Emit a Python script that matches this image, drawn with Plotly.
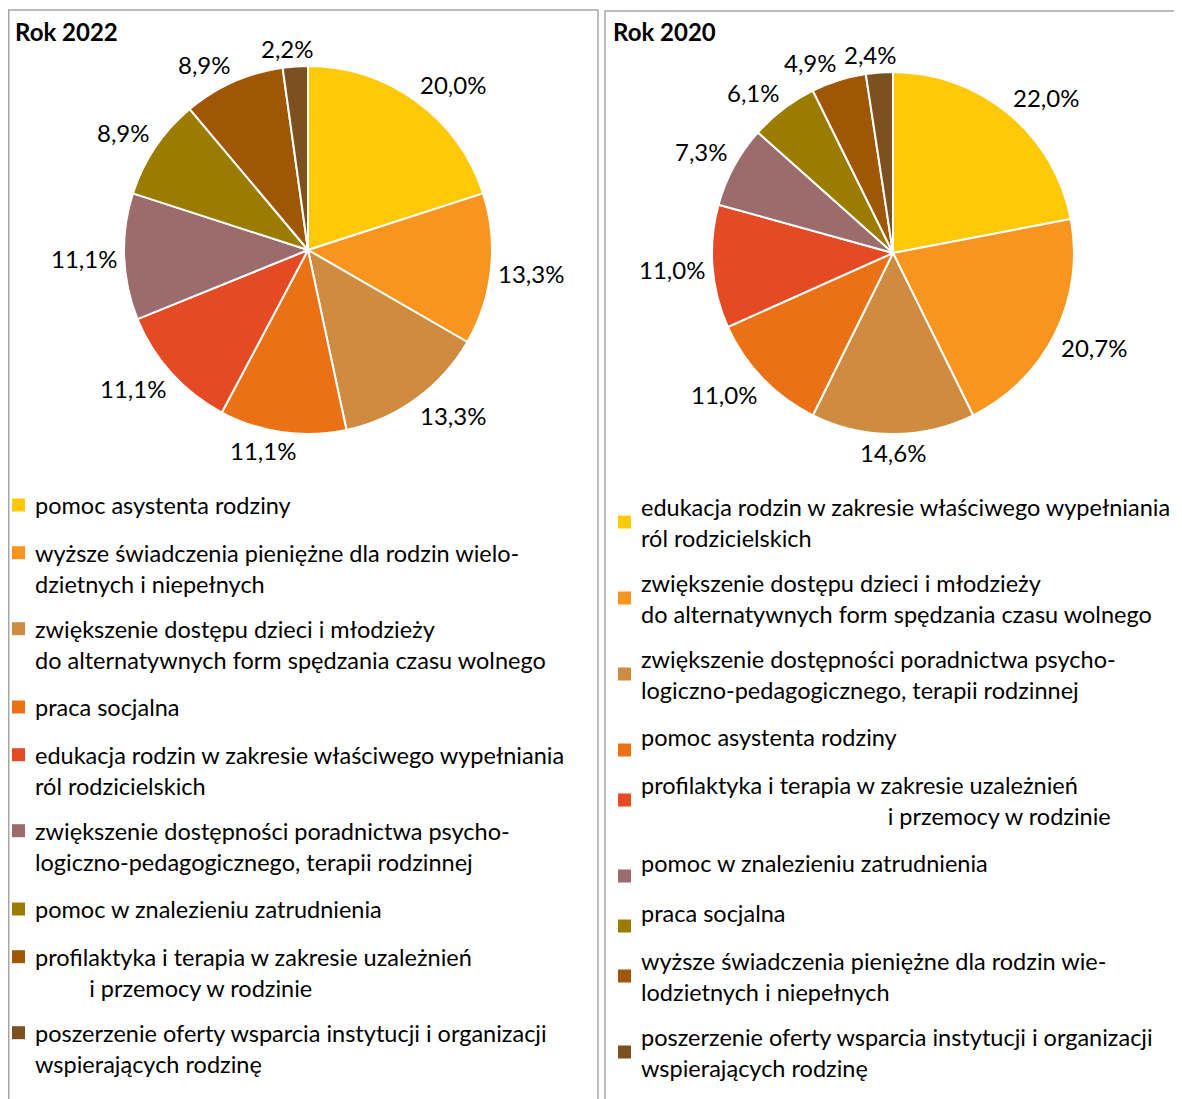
import math
import plotly.graph_objects as go

W, H = 1182, 1099
OFF = 8  # margines body strony
FONT = "Lato"
TXT = "#000000"
FRAME = "#A6A6A6"
FS = 24
FS_LEG = 23.5

colors = ["#FFC90A", "#F7951F", "#CF8C40", "#EB7117", "#E44A23",
          "#9C6B6B", "#9C7C00", "#A05705", "#7D5020"]

labels_2022 = [
    "pomoc asystenta rodziny",
    "wyższe świadczenia pieniężne dla rodzin wielo-<br>dzietnych i niepełnych",
    "zwiększenie dostępu dzieci i młodzieży<br>do alternatywnych form spędzania czasu wolnego",
    "praca socjalna",
    "edukacja rodzin w zakresie właściwego wypełniania<br>ról rodzicielskich",
    "zwiększenie dostępności poradnictwa psycho-<br>logiczno-pedagogicznego, terapii rodzinnej",
    "pomoc w znalezieniu zatrudnienia",
    "profilaktyka i terapia w zakresie uzależnień<br>" + "\u00a0" * 9 + "i przemocy w rodzinie",
    "poszerzenie oferty wsparcia instytucji i organizacji<br>wspierających rodzinę",
]
values_2022 = [20.0, 13.3, 13.3, 11.1, 11.1, 11.1, 8.9, 8.9, 2.2]

labels_2020 = [
    "edukacja rodzin w zakresie właściwego wypełniania<br>ról rodzicielskich",
    "zwiększenie dostępu dzieci i młodzieży<br>do alternatywnych form spędzania czasu wolnego",
    "zwiększenie dostępności poradnictwa psycho-<br>logiczno-pedagogicznego, terapii rodzinnej",
    "pomoc asystenta rodziny",
    "profilaktyka i terapia w zakresie uzależnień<br>" + "\u00a0" * 41 + "i przemocy w rodzinie",
    "pomoc w znalezieniu zatrudnienia",
    "praca socjalna",
    "wyższe świadczenia pieniężne dla rodzin wie-<br>lodzietnych i niepełnych",
    "poszerzenie oferty wsparcia instytucji i organizacji<br>wspierających rodzinę",
]
values_2020 = [22.0, 20.7, 14.6, 11.0, 11.0, 7.3, 6.1, 4.9, 2.4]


def px(x):
    return (x - OFF) / W


def py(y):
    return 1 - (y - OFF) / H


fig = go.Figure()


def pie(labels, values, cx, cy, r):
    fig.add_trace(go.Pie(
        labels=[l.replace("<br>", " ").replace("\u00a0", "") for l in labels],
        values=values, sort=False, direction="clockwise", rotation=0,
        marker=dict(colors=colors, line=dict(color="white", width=2)),
        textinfo="none",
        domain=dict(x=[px(cx - r), px(cx + r)], y=[py(cy + r), py(cy - r)]),
        showlegend=False,
        hovertemplate="<b>%{label}</b><br>%{value:.1f}%<extra></extra>",
    ))
    # etykiety procentowe na zewnatrz wycinkow (jak w Excelu)
    total = sum(values)
    cum = 0
    for v in values:
        th = 2 * math.pi * (cum + v / 2) / total
        cum += v
        s, c = math.sin(th), -math.cos(th)
        txt = f"{v:.1f}%".replace(".", ",")
        hw = 0.5 * ((len(txt) - 2) * 13.9 + 24.5)
        sx = max(-1, min(1, 4 * s))
        sy = max(-1, min(1, 3 * c))
        lx = cx + (r + 7) * s + hw * sx
        ly = cy + (r + 7) * c + 11 * sy
        fig.add_annotation(text=txt, x=px(lx), y=py(ly), xref="paper", yref="paper",
                           xanchor="center", yanchor="middle", showarrow=False,
                           font=dict(family=FONT, size=FS, color=TXT))


pie(labels_2022, values_2022, 308, 250, 184)
pie(labels_2020, values_2020, 893, 253, 181)

# Ramki paneli
for x0, x1, y0 in [(8.75, 598, 10), (605, 1200, 11)]:
    fig.add_shape(type="rect", xref="paper", yref="paper",
                  x0=px(x0), x1=px(x1), y0=py(y0), y1=py(H + 20),
                  line=dict(color=FRAME, width=1.5), fillcolor="rgba(0,0,0,0)")

# Tytuly
for txt, x, y in [("Rok 2022", 13, 31), ("Rok 2020", 611, 32)]:
    fig.add_annotation(text=f"<b>{txt}</b>", x=px(x), y=py(y), xref="paper", yref="paper",
                       xanchor="left", yanchor="middle", showarrow=False,
                       font=dict(family=FONT, size=FS, color=TXT))


# Legendy (rysowane recznie: kwadrat + tekst)
def legend(labels, sq_x, txt_x, y_first, centered):
    nl = [l.count("<br>") + 1 for l in labels]
    yc = y_first
    for i, (lab, c) in enumerate(zip(labels, colors)):
        first = yc - 13 * (nl[i] - 1)
        sq_y = first + 13 if centered else yc - 15.3 * (nl[i] - 1)
        fig.add_shape(type="rect", xref="paper", yref="paper",
                      x0=px(sq_x), x1=px(sq_x + 13), y0=py(sq_y + 6.5), y1=py(sq_y - 6.5),
                      line=dict(width=0), fillcolor=c)
        fig.add_annotation(text=lab, x=px(txt_x), y=py(yc), xref="paper", yref="paper",
                           xanchor="left", yanchor="middle", align="left", showarrow=False,
                           font=dict(family=FONT, size=FS_LEG, color=TXT))
        if i + 1 < len(labels):
            yc += 50 + 13 * (nl[i] - 1) + 13 * (nl[i + 1] - 1)


legend(labels_2022, 12, 33, 505, False)
legend(labels_2020, 618, 639, 509 + 13, True)

fig.update_layout(
    width=W, height=H, margin=dict(l=0, r=0, t=0, b=0),
    paper_bgcolor="white", plot_bgcolor="white",
    font=dict(family=FONT, color=TXT),
)

fig.write_html("out.html")
